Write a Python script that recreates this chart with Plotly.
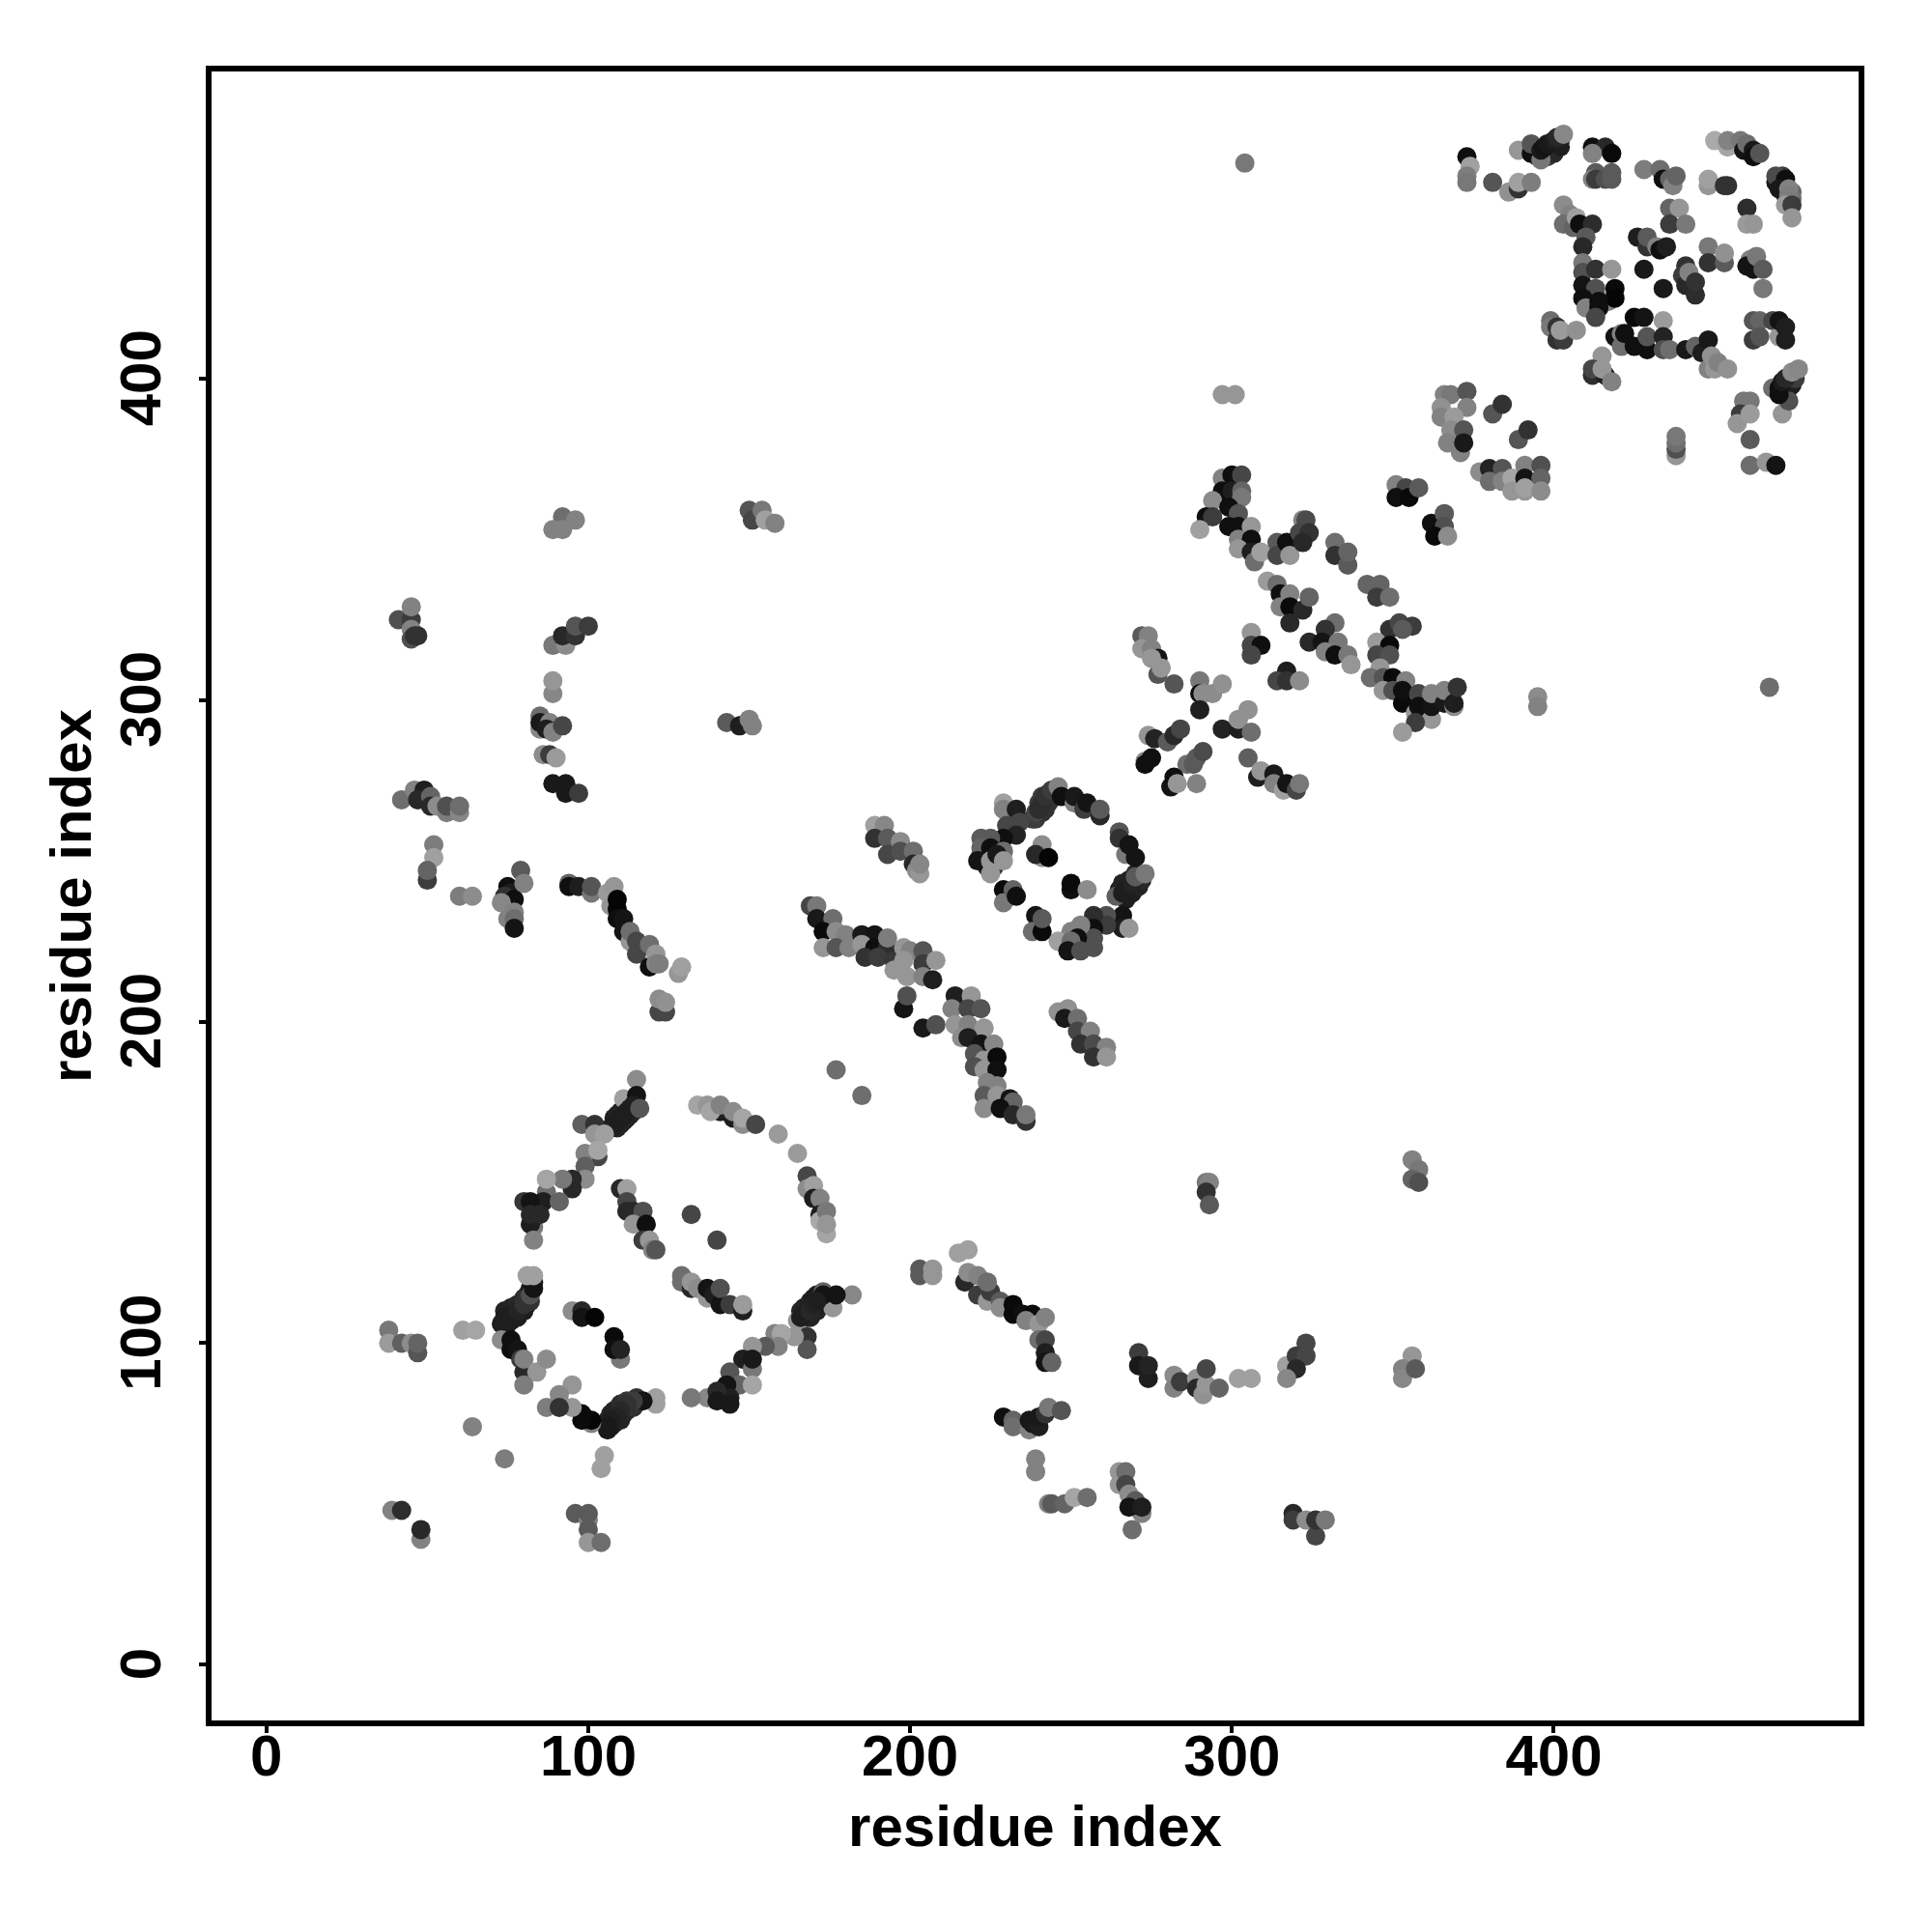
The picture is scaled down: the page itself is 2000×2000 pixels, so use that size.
import plotly.graph_objects as go

# (residue i, residue j, score)
cluster_dense_bands = [
(108,170,35),(109,171,35),(110,172,35),(111,173,35),(112,174,35),(113,175,35),(114,176,35),(109,167,35),(110,168,35),(111,169,35),(112,170,35),(113,171,35),(114,172,35),(115,173,35),
(75,106,30),(76,107,30),(78,108,30),(79,110,30),(80,110,30),(81,112,30),(74,110,35),(76,111,35),(78,112,40),(80,114,45),(81,115,50),(82,117,25),(83,119,20),
(166,110,35),(167,111,35),(169,113,35),(170,114,30),(171,115,30),(168,108,35),(169,108,35),(171,110,35),(172,112,30),(173,113,25),
(107,74,30),(108,75,30),(110,76,35),(111,78,35),(112,79,40),(114,80,50),(105,75,30),(106,76,30),(107,78,35),(108,79,35),(110,81,45),(112,82,55),(115,83,50),
(238,263,60),(239,263,60),(241,265,50),(242,266,50),(243,268,50),(245,270,50),(240,268,60),(241,270,60),(243,271,60),
(265,241,30),(266,243,35),(268,244,35),(270,246,40),(267,238,30),(269,240,30),(271,242,35),(272,244,40),
(222,250,40),(222,252,80),(224,251,50),(224,255,80),(226,256,60),(227,255,30),(228,256,30),(224,248,30),(226,248,60),
(395,469,50),(396,469,40),(397,470,30),(398,471,25),(399,472,25),(400,472,25),(401,473,25),(402,474,40),(398,469,60),(400,470,40),(402,472,30),
(471,397,20),(472,398,20),(473,399,25),(474,400,30),(472,396,20),(473,397,25),(474,398,30),(475,400,60),
(471,460,30),(472,457,60),(474,458,100),(474,456,110),(471,463,60),
]

cluster_low_left = [
(115,182,140),(111,176,160),(115,177,20),(107,167,30),(108,168,30),(109,169,30),(110,170,30),(111,171,30),(112,172,30),(113,173,30),(114,174,30),(116,173,85),
(98,168,95),(102,168,50),(102,165,150),(105,165,160),(103,158,70),(99,159,130),(103,160,165),(99,155,95),(99,151,140),(95,148,40),(95,151,40),(92,151,120),
(87,147,110),(87,151,165),(86,144,30),(91,144,100),(80,144,55),(82,144,20),(83,136,120),(82,137,30),(82,140,40),(85,140,40),(83,132,130),
(134,174,165),(137,174,150),(141,172,30),(138,172,165),(141,174,130),(145,170,30),(145,172,140),(148,168,140),(148,170,165),(152,168,70),(159,165,155),(165,159,155),
(168,152,70),(168,148,140),(170,149,160),(170,145,30),(172,145,130),(172,140,30),(172,138,170),(174,141,120),(174,134,165),(174,137,150),
(110,148,40),(112,148,160),(112,144,70),(112,141,40),(114,141,40),(117,141,80),(114,137,150),(118,137,15),(117,132,60),(119,132,150),(120,129,130),(121,129,85),
(132,140,70),(140,132,70),
(129,121,110),(129,119,110),(132,117,40),(132,119,150),(134,117,140),(137,114,150),(137,117,20),(139,115,30),(141,112,20),(141,117,80),(144,112,60),(148,110,30),(148,112,155),
(74,108,30),(73,106,30),(76,109,30),(78,110,35),(80,112,50),(82,113,50),(82,115,80),(83,117,20),(81,121,160),(83,121,160),
(73,101,140),(76,101,15),(76,98,15),(78,98,20),(79,95,60),(80,91,40),(80,95,130),(84,91,150),(87,95,140),(80,87,125),
(38,104,120),(38,100,155),(42,100,95),(45,100,140),(47,97,85),(47,100,100),(61,104,160),(65,104,165),
(95,110,140),(98,110,40),(98,108,20),(102,108,5),(108,102,10),(110,95,120),(108,98,15),(110,98,35),
(182,115,135),(176,111,150),(173,116,100),(177,115,20),(173,115,20),(165,107,150),(166,108,30),(167,109,30),(169,110,40),(170,112,35),(171,113,30),(168,102,50),(168,98,85),(164,102,150),
(158,103,130),(160,103,165),(159,99,130),(155,99,90),(151,99,150),(148,95,30),(151,92,120),(151,95,25),(144,91,85),(147,87,100),(151,87,165),(143,87,20),(144,83,30),(144,81,25),
(137,83,135),(140,85,40),(140,82,25),(132,83,120),
(121,81,160),(121,83,160),(117,82,20),(114,82,60),(112,81,50),(110,79,40),(109,77,35),(107,76,30),(106,74,25),(106,73,25),(101,75,130),(101,76,5),(98,78,10),(98,76,10),
(95,80,150),(95,87,150),(91,84,135),(87,80,125),(91,80,50),
(64,74,130),(74,64,125),(105,65,160),(104,61,160),(39,48,130),(42,48,45),(48,39,130),(48,42,40),
(96,47,90),(100,45,130),(100,47,90),(100,42,90),(100,38,150),(104,38,110),(177,185,110),(185,177,110),
]

cluster_middle = [
(189,261,160),(192,261,135),(189,257,50),(193,257,90),(193,252,70),(197,256,140),(197,253,80),(201,253,110),(201,249,40),(202,247,140),(203,246,150),(203,249,135),
(229,268,160),(229,266,130),(233,266,30),(230,261,70),(234,262,70),(233,258,35),(229,257,15),(225,257,90),(222,257,90),(222,254,100),(221,250,20),(225,254,15),(229,253,110),(225,246,150),(225,250,150),(227,252,25),(229,250,150),
(239,265,70),(240,266,45),(241,268,45),(242,270,50),(244,272,60),(246,273,130),(247,270,15),(251,268,130),(251,270,25),(254,266,60),(255,268,20),(259,264,40),(259,266,90),
(265,259,85),(265,257,50),(267,252,120),(268,255,20),(270,251,20),(264,239,95),(266,240,30),(267,241,30),(269,243,35),(270,245,90),(273,246,120),
(266,233,20),(266,229,30),(268,229,150),(261,233,80),(261,230,60),(257,233,45),(257,229,15),(257,226,80),(257,223,80),(253,230,130),(250,228,130),(252,226,15),(246,225,160),(250,225,110),(249,222,20),(253,222,80),
(241,255,140),(241,251,145),(239,252,40),(243,251,5),(250,241,15),(250,243,10),(255,241,140),(229,241,10),(229,237,120),(232,241,100),(233,239,15),(239,233,20),(238,228,110),(241,228,10),(241,232,90),
(169,236,70),(171,236,120),(171,232,25),(176,232,110),(173,228,10),(177,228,140),(180,227,130),(173,223,150),(177,223,85),(181,223,130),
(185,227,25),(189,227,20),(185,224,150),(189,223,15),(193,223,45),(193,226,125),(186,220,50),(190,220,60),(195,219,55),(198,223,150),(200,222,130),(204,222,85),(198,219,150),(204,218,60),(208,219,150),(195,216,150),(199,214,150),(204,214,130),(207,213,30),
(198,204,20),(199,208,80),(204,198,25),(208,199,80),
(214,208,30),(219,208,150),(213,204,130),(218,204,70),(222,204,85),(214,199,150),(218,199,130),(223,198,150),(216,195,140),(218,195,30),(222,193,20),(226,193,135),(220,190,85),(223,188,150),(227,189,10),(220,186,80),(223,185,150),(227,185,15),(224,181,130),(227,180,130),
(223,177,90),(227,177,150),(231,176,20),(232,175,100),(223,173,140),(228,173,15),(232,171,40),(236,169,50),(236,171,120),
(246,203,145),(249,204,145),(248,201,25),(252,201,110),(252,197,70),(256,197,130),(253,193,50),(257,193,75),(261,192,130),(257,189,50),(261,189,150),
]

cluster_upper_mid = [
(297,369,130),(300,370,15),(303,370,70),(297,365,15),(300,365,30),(303,365,100),(303,363,120),(294,362,140),(299,360,15),(302,358,85),(292,357,15),(294,357,60),(290,353,160),(299,354,15),(302,354,15),(306,354,150),(302,350,130),(306,350,15),(302,347,150),(306,346,30),(307,343,110),(309,346,160),
(314,349,90),(314,345,70),(317,349,15),(318,345,150),(322,356,130),(323,356,75),(321,352,70),(324,352,50),(322,349,40),
(332,349,110),(332,345,50),(336,342,90),(336,346,100),(342,336,100),(346,336,100),(345,332,60),(349,332,110),
(311,337,155),(314,336,110),(315,333,15),(318,333,130),(315,329,130),(318,329,10),(322,328,40),(324,332,100),(318,324,40),
(332,324,110),(329,322,50),(324,318,40),(328,318,20),(333,318,120),(329,315,130),(332,314,15),(336,314,120),(337,311,150),
(349,322,50),(352,324,70),(356,323,60),(353,322,90),(345,318,155),(349,317,10),(345,314,70),(349,314,80),(346,310,150),(343,307,110),(347,307,85),(350,307,10),(354,306,130),
(347,303,150),(350,303,80),(353,299,10),(353,303,15),(357,296,150),(358,302,70),(358,298,15),(362,294,150),(362,298,20),(362,302,130),(357,293,60),(353,290,155),(366,299,25),(366,303,130),(369,298,140),(369,299,30),(370,304,50),
(272,320,90),(274,320,130),(272,316,150),(275,316,130),(277,313,20),(275,313,150),(277,308,85),(278,310,150),(282,305,85),
(306,321,150),(306,317,70),(309,317,15),(306,314,70),(317,309,30),(314,306,70),(317,306,50),(321,306,140),
(290,306,120),(290,302,15),(291,302,140),(294,302,140),(297,305,145),(290,297,30),
(274,289,150),(276,288,35),(280,287,90),(282,289,40),(284,291,70),(273,281,140),(273,280,15),(275,282,15),(286,280,110),(288,280,90),(289,282,90),(291,284,75),(281,273,20),(282,276,15),(283,274,150),(289,274,130),
(297,291,35),(302,291,30),(302,294,145),(305,297,145),(306,290,110),(305,282,95),
(308,276,30),(309,278,150),(313,277,25),(313,274,130),(316,272,160),(317,274,20),(320,272,70),(321,274,120),
(351,367,130),(354,366,70),(351,363,15),(355,363,10),(358,366,90),(362,355,15),(366,358,90),(366,354,80),(363,351,10),(367,351,140),
]

cluster_top_right = [
(373,469,15),(374,466,160),(373,463,125),(373,461,120),(381,461,85),(386,458,145),(389,459,50),(389,461,160),(393,461,125),(389,471,150),(393,470,15),(393,473,85),
(396,468,120),(396,471,25),(397,472,20),(398,473,25),(400,474,30),(401,475,40),(403,476,135),
(412,472,15),(416,472,40),(412,470,130),(418,470,10),(413,464,90),(412,462,130),(413,462,60),(416,462,80),(418,464,90),(418,462,90),
(428,465,125),(433,465,110),(434,462,15),(436,462,100),(437,460,130),(438,463,100),
(450,474,170),(454,472,165),(454,474,130),(458,474,120),(459,471,20),(460,473,110),(462,471,25),(462,469,15),(464,470,85),
(448,460,150),(448,462,160),(453,460,50),(454,460,50),
(469,461,25),(469,463,75),(472,462,15),(470,459,25),(473,459,130),(473,457,125),(472,454,155),(474,454,60),(474,450,150),
(460,453,45),(460,448,155),(462,448,150),
(403,454,140),(405,451,130),(403,448,110),(406,447,100),(407,450,160),(408,448,15),(412,448,45),(410,444,90),(409,441,40),
(426,444,30),(429,441,50),(429,444,90),(432,441,130),(433,440,15),(435,441,30),
(436,453,100),(439,453,150),(436,448,60),(441,448,120),(448,441,120),(448,436,50),(453,436,90),(453,439,145),
(461,437,130),(460,435,20),(462,434,20),(463,438,120),(465,434,90),(465,428,120),
(409,436,120),(409,433,80),(413,434,50),(418,434,150),(428,434,25),(434,428,25),
(441,435,50),(440,432,60),(441,429,40),(442,433,130),(444,426,45),(444,430,50),
(409,429,20),(413,428,80),(409,425,15),(410,422,130),(417,424,130),(419,428,10),(419,425,5),(414,424,15),(414,422,15),(413,419,70),
(399,418,110),(399,416,120),(401,416,50),(401,412,50),(403,412,60),(402,415,155),(407,415,145),
(425,419,10),(428,419,20),(434,418,155),(419,413,20),(421,414,130),(421,410,110),(422,414,15),(425,410,15),(429,409,15),(429,413,85),(434,413,35),(434,409,80),(436,409,110),
(441,409,25),(444,410,100),(446,408,30),(448,412,25),(448,403,130),(449,407,145),(450,403,150),(451,405,130),(454,403,145),
(462,418,85),(464,418,100),(462,412,60),(464,413,85),(468,418,70),(470,413,150),(470,418,20),(472,412,30),(472,416,30),
(415,407,150),(412,401,45),(412,403,70),(416,401,30),(415,403,150),(418,399,130),
(471,389,150),(468,397,110),(473,393,80),(470,395,15),(470,397,15),(471,399,25),(472,400,40),(474,402,140),(476,403,135),
(459,393,120),(461,393,120),(458,389,60),(457,386,150),(461,389,155),(461,381,90),
(438,376,150),(438,378,80),(438,380,110),(438,382,120),(461,373,110),(466,374,150),(469,373,20),
(366,395,130),(368,395,120),(373,396,85),(365,391,145),(373,391,130),(365,388,130),(369,388,155),(368,384,140),(372,384,85),(367,380,130),(371,377,130),(372,380,25),
(381,389,85),(384,392,50),(389,381,85),(392,384,50),
(377,371,140),(380,372,35),(384,372,85),(380,368,110),(384,368,130),(387,369,165),(387,365,150),(391,373,130),(391,369,20),(396,373,80),(396,369,100),(391,365,150),(391,366,160),(396,365,140),
]

cluster_upper_left = [
(92,357,110),(96,356,130),(89,353,130),(92,353,130),(150,359,85),(151,356,70),(154,359,120),(155,356,160),(158,355,130),
(41,325,80),(45,325,60),(45,329,130),(45,322,130),(45,319,80),(47,320,50),(46,320,50),
(89,317,120),(93,317,140),(92,320,40),(96,320,50),(96,323,85),(100,323,60),(89,302,135),(89,306,150),
(85,295,110),(85,291,135),(85,293,25),(88,293,130),(87,291,30),(89,290,130),(92,292,70),(86,283,140),(88,283,60),(90,282,155),
(89,274,25),(93,274,25),(93,271,25),(97,271,60),(143,293,90),(147,292,30),(150,294,130),(151,292,130),
(42,269,110),(46,272,130),(49,272,30),(47,269,40),(51,270,100),(51,267,40),(53,267,140),(56,265,125),(56,267,80),(60,265,135),(60,267,110),
(52,255,125),(52,251,160),(50,244,60),(50,247,100),(60,239,125),(64,239,140),
(79,247,90),(75,242,15),(76,240,30),(74,239,50),(77,238,15),(73,237,135),(80,243,130),(75,232,130),(77,234,130),(77,232,110),(77,229,20),
(94,243,100),(94,242,15),(97,242,30),(101,240,120),(101,242,85),(106,240,155),(108,242,150),(107,236,150),(109,238,5),(109,235,5),(109,232,15),(111,232,20),(111,228,20),(113,225,150),(113,228,110),
(115,225,70),(115,221,70),(119,224,110),(119,217,15),(121,221,150),(121,218,130),(122,218,125),(128,215,150),(129,217,160),
(122,203,70),(124,203,70),(122,207,140),(124,206,145),
]

cluster_low_right = [
(203,121,90),(203,123,90),(207,121,150),(207,123,150),(215,128,160),(218,129,160),
(217,119,40),(218,122,140),(221,115,60),(221,121,130),(224,113,150),(225,116,60),(224,119,110),(228,113,90),(228,111,140),(232,109,10),(232,112,10),(235,109,15),(238,109,10),(236,107,130),(240,106,150),(242,108,130),
(240,101,110),(242,101,70),(242,97,30),(242,94,20),(244,94,100),
(229,77,15),(232,76,100),(232,74,110),(237,73,130),(237,76,25),(238,75,25),(240,74,30),(240,77,25),(242,78,50),(243,80,120),(247,79,85),
(239,64,130),(239,60,130),(243,50,130),(244,50,90),(248,50,100),(251,52,165),(255,52,110),
(265,60,150),(265,56,150),(267,60,110),(267,56,70),(268,53,140),(270,51,90),(272,47,130),(268,49,20),(272,49,30),(269,42,110),
(319,47,40),(319,45,60),(323,45,140),(326,40,70),(326,45,50),(329,45,120),
(271,97,60),(271,93,25),(274,89,30),(274,93,35),(282,90,140),(282,86,130),(284,88,60),(289,89,150),(289,86,40),(291,84,145),(292,87,150),(292,92,70),(296,86,100),
(302,89,160),(306,89,160),(323,100,70),(317,93,160),(320,96,60),(323,96,70),(320,92,40),(317,89,135),
(356,96,150),(353,92,130),(353,89,135),(357,92,90),
(292,150,120),(293,150,130),(292,147,50),(293,143,90),(356,157,130),(358,154,120),(356,151,100),(358,150,80),
(395,301,140),(395,298,130),(467,304,110),(304,467,120),(297,395,150),(301,395,150),
]

tick_values = [0, 100, 200, 300, 400]
axis_label = "residue index"

points = (cluster_dense_bands + cluster_low_left + cluster_middle + cluster_upper_mid +
          cluster_top_right + cluster_upper_left + cluster_low_right)

fig = go.Figure(go.Scatter(
    x=[p[0] for p in points], y=[p[1] for p in points], mode="markers",
    marker=dict(size=20, color=[p[2] for p in points], cmin=0, cmax=255,
                colorscale=[[0, "#000000"], [1, "#ffffff"]], line=dict(width=0)),
))
font = dict(family="Liberation Sans", size=60, color="black", weight="bold")
axis = dict(tickvals=tick_values, showgrid=False, zeroline=False,
            showline=True, mirror=True, linecolor="black", linewidth=5.5,
            ticks="outside", ticklen=7, tickwidth=4, tickcolor="black",
            tickfont=font)
fig.update_layout(
    width=2000, height=2000, autosize=False, showlegend=False,
    paper_bgcolor="white", plot_bgcolor="white",
    margin=dict(l=211.2, r=83.5, t=65.5, b=226.5, autoexpand=False),
    xaxis={**axis, "range": [-17.05, 494.7], "ticklabelstandoff": -28,
           "title": dict(text=f"<b>{axis_label}</b>", font=font, standoff=21)},
    yaxis={**axis, "range": [-17.36, 495.5], "tickangle": -90, "ticklabelstandoff": 16,
           "ticktext": [f"{v}\u00a0" for v in tick_values],
           "title": dict(text=f"<b>{axis_label}</b>", font=font, standoff=0)},
)
fig.write_html("out.html")
